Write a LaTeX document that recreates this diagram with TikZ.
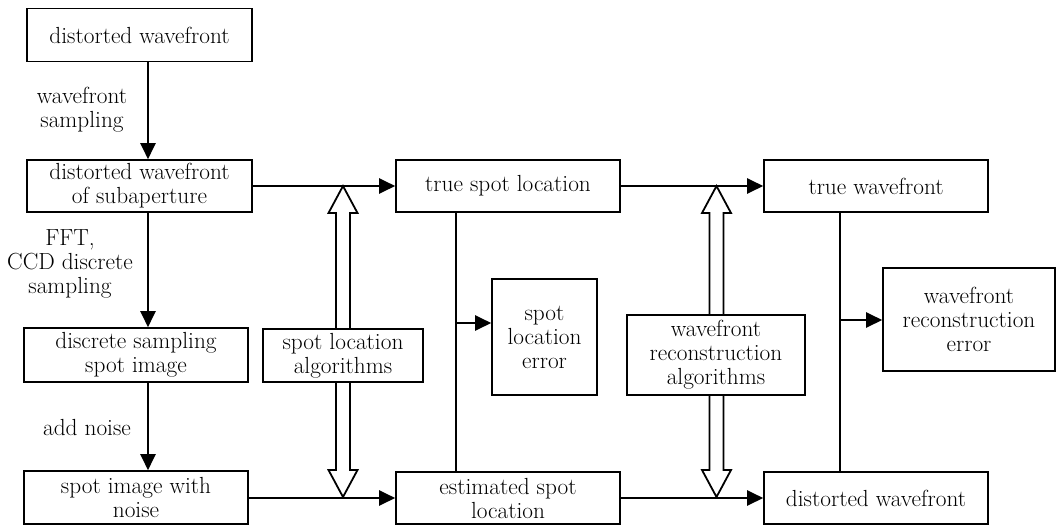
\documentclass[tikz,border=0pt]{standalone}
\usetikzlibrary{arrows.meta,calc}
\begin{document}
\begin{tikzpicture}[x=1pt,y=1pt,
 box/.style={draw,line width=1.6pt,inner sep=0pt,align=center,font=\fontsize{23.3}{24}\selectfont},
 lbl/.style={inner sep=0pt,align=center,font=\fontsize{23.3}{24}\selectfont},
 arr/.style={line width=2.2pt,-{Triangle[length=16pt,width=15pt]}},
 ln/.style={line width=2.2pt},
 hollow/.style={draw,fill=white,line width=1.8pt,line join=miter}]
\useasboundingbox (0,0) rectangle (1056,-525);
% left column
\node[box,minimum width=225pt,minimum height=53pt] (dw) at (139.5,-35) {distorted wavefront};
\node[box,minimum width=225pt,minimum height=52pt] (dws) at (139.5,-186) {distorted wavefront\\of subaperture};
\node[box,minimum width=224pt,minimum height=54pt] (dss) at (136,-355) {discrete sampling\\spot image};
\node[box,minimum width=224pt,minimum height=53pt] (siw) at (136,-497.5) {spot image with\\noise};
\coordinate (cx) at (148,0);
\draw[arr] (dw.south -| cx) -- (dws.north -| cx);
\draw[arr] (dws.south -| cx) -- (dss.north -| cx);
\draw[arr] (dss.south -| cx) -- (siw.north -| cx);
\node[lbl] (l1) at (82,-110) {wavefront\\sampling};
\node[lbl] (l2) at (70,-264) {FFT,\\CCD discrete\\sampling};
\node[lbl] (l3) at (87,-427) {add noise};
% middle column
\node[box,minimum width=224pt,minimum height=52pt] (tsl) at (508,-186) {true spot location};
\node[box,minimum width=224pt,minimum height=52pt] (esl) at (508,-498) {estimated spot\\location};
\node[box,minimum width=160pt,minimum height=53pt] (sla) at (343,-355.5) {spot location\\algorithms};
\node[box,minimum width=105pt,minimum height=116pt] (sle) at (544.5,-337) {spot\\location\\error};
\draw[arr] (dws.east) -- (tsl.west);
\draw[arr] (siw.east |- esl.west) -- (esl.west);
\coordinate (mx) at (456,-323);
\draw[ln] (tsl.south -| mx) -- (esl.north -| mx);
\draw[arr] (mx) -- (sle.west |- mx);
% hollow double arrow left
\draw[hollow] (343,-186) -- (357.5,-213) -- (350,-213) -- (350,-329) -- (336,-329) -- (336,-213) -- (328.5,-213) -- cycle;
\draw[hollow] (343,-497) -- (357.5,-470) -- (350,-470) -- (350,-382) -- (336,-382) -- (336,-470) -- (328.5,-470) -- cycle;
% right column
\node[box,minimum width=224pt,minimum height=52pt] (tw) at (876,-186) {true wavefront};
\node[box,minimum width=224pt,minimum height=52pt] (dwb) at (876,-498) {distorted wavefront};
\node[box,minimum width=178pt,minimum height=80pt] (wra) at (716,-355) {wavefront\\reconstruction\\algorithms};
\node[box,minimum width=172pt,minimum height=103pt] (wre) at (969,-319.5) {wavefront\\reconstruction\\error};
\draw[arr] (tsl.east) -- (tw.west);
\draw[arr] (esl.east |- dwb.west) -- (dwb.west);
\coordinate (rx) at (840,-320);
\draw[ln] (tw.south -| rx) -- (dwb.north -| rx);
\draw[arr] (rx) -- (wre.west |- rx);
% hollow double arrow right
\draw[hollow] (716.5,-186) -- (731,-213) -- (723.5,-213) -- (723.5,-315) -- (709.5,-315) -- (709.5,-213) -- (702,-213) -- cycle;
\draw[hollow] (716.5,-497) -- (731,-470) -- (723.5,-470) -- (723.5,-395) -- (709.5,-395) -- (709.5,-470) -- (702,-470) -- cycle;
\end{tikzpicture}
\end{document}
